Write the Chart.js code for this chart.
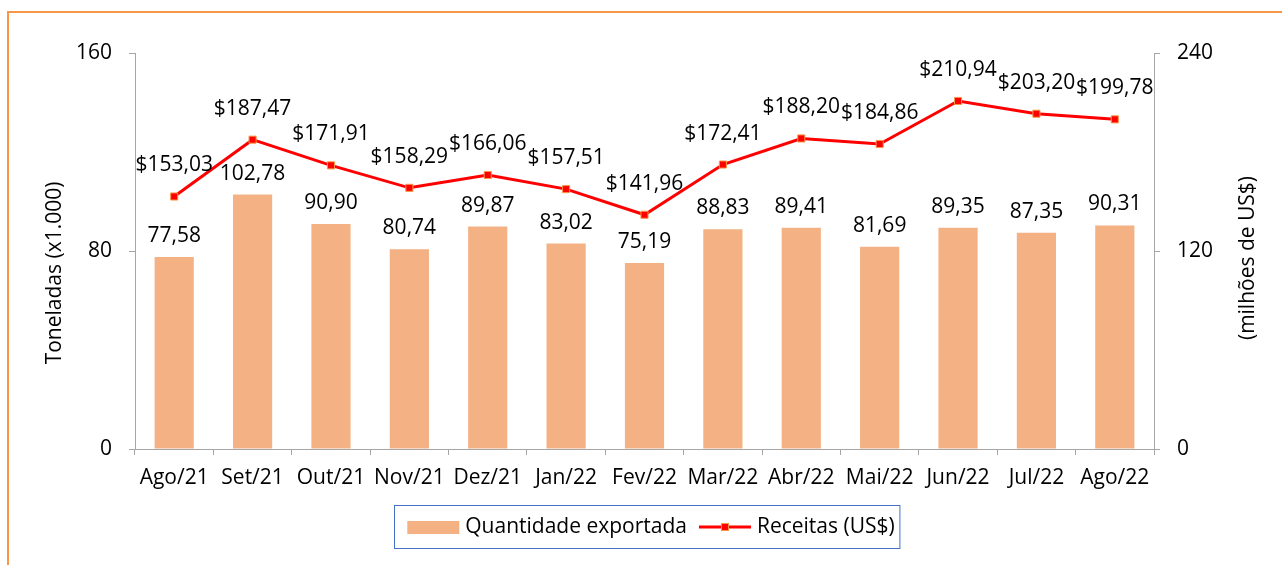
<!DOCTYPE html>
<html>
<head>
<meta charset="utf-8">
<script src="https://cdn.jsdelivr.net/npm/chart.js@4.4.1/dist/chart.umd.min.js"></script>
<style>
  body { margin: 0; background: #fff; }
  #wrap { position: relative; width: 1282px; height: 565px; overflow: hidden; }
  #frame { position: absolute; left: 7px; top: 11px; width: 1400px; height: 700px;
           border-left: 2px solid #F79646; border-top: 2px solid #F79646; pointer-events: none; }
</style>
</head>
<body>
<div id="wrap">
  <canvas id="myChart" width="1282" height="565"></canvas>
  <div id="frame"></div>
</div>
<script>
// data
const months = ['Ago/21', 'Set/21', 'Out/21', 'Nov/21', 'Dez/21', 'Jan/22', 'Fev/22', 'Mar/22', 'Abr/22', 'Mai/22', 'Jun/22', 'Jul/22', 'Ago/22'];
const quantidade = [77.58, 102.78, 90.90, 80.74, 89.87, 83.02, 75.19, 88.83, 89.41, 81.69, 89.35, 87.35, 90.31];
const receitas = [153.03, 187.47, 171.91, 158.29, 166.06, 157.51, 141.96, 172.41, 188.20, 184.86, 210.94, 203.20, 199.78];
const leftTicks = [0, 80, 160];
const rightTicks = [0, 120, 240];

const FONT = '"Open Sans", sans-serif';
const fontSize = 21;
const axisGray = '#a6a6a6';

const fmt = v => v.toFixed(2).replace('.', ',');

// labels, axis titles, legend
const extras = {
  id: 'extras',
  afterDatasetsDraw(chart) {
    const ctx = chart.ctx;
    ctx.save();
    ctx.font = fontSize + 'px ' + FONT;
    ctx.fillStyle = '#000';
    ctx.textAlign = 'center';
    ctx.textBaseline = 'middle';

    chart.getDatasetMeta(0).data.forEach((bar, i) => {
      ctx.fillText(fmt(quantidade[i]), bar.x, bar.y - 21);
    });
    chart.getDatasetMeta(1).data.forEach((pt, i) => {
      ctx.fillText('$' + fmt(receitas[i]), pt.x, pt.y - 31);
    });

    // axis titles, both read bottom to top
    const a = chart.chartArea;
    ctx.save();
    ctx.translate(a.left - 80, 273);
    ctx.rotate(-Math.PI / 2);
    ctx.fillText('Toneladas (x1.000)', 0, 0);
    ctx.restore();
    ctx.save();
    ctx.translate(a.right + 94, 258);
    ctx.rotate(-Math.PI / 2);
    ctx.fillText('(milhões de US$)', 0, 0);
    ctx.restore();

    // legend
    const ds = chart.data.datasets;
    const t1 = ctx.measureText(ds[0].label).width;
    const t2 = ctx.measureText(ds[1].label).width;
    const total = 52 + 6 + t1 + 12 + 52 + 6 + t2;
    let x = 651 - total / 2;
    const cy = 527;
    ctx.strokeStyle = '#4472C4';
    ctx.lineWidth = 1;
    ctx.strokeRect(Math.round(x - 13) + 0.5, 505.5, total + 18, 43);
    ctx.fillStyle = ds[0].backgroundColor;
    ctx.fillRect(x, cy - 6, 52, 13);
    x += 58;
    ctx.fillStyle = '#000';
    ctx.textAlign = 'left';
    ctx.fillText(ds[0].label, x, cy);
    x += t1 + 12;
    ctx.strokeStyle = ds[1].borderColor;
    ctx.lineWidth = 3;
    ctx.beginPath();
    ctx.moveTo(x, cy);
    ctx.lineTo(x + 52, cy);
    ctx.stroke();
    ctx.fillStyle = ds[1].pointBackgroundColor;
    ctx.strokeStyle = ds[1].pointBorderColor;
    ctx.lineWidth = 1;
    ctx.fillRect(x + 22, cy - 4, 8, 8);
    ctx.strokeRect(x + 22.5, cy - 3.5, 7, 7);
    x += 58;
    ctx.fillStyle = '#000';
    ctx.fillText(ds[1].label, x, cy);
    ctx.restore();
  }
};

const ctx1 = document.getElementById('myChart');

new Chart(ctx1, {
  type: 'bar',
  data: {
    labels: months,
    datasets: [{
      type: 'bar',
      label: 'Quantidade exportada',
      data: quantidade,
      backgroundColor: '#F4B183',
      yAxisID: 'y',
      categoryPercentage: 1,
      barPercentage: 0.5,
      order: 2
    }, {
      type: 'line',
      label: 'Receitas (US$)',
      data: receitas,
      borderColor: '#FF0000',
      borderWidth: 3,
      pointStyle: 'rect',
      pointRadius: 5,
      pointBackgroundColor: '#FF0000',
      pointBorderColor: '#F79646',
      pointBorderWidth: 1,
      tension: 0,
      yAxisID: 'y1',
      order: 1
    }]
  },
  options: {
    responsive: false,
    animation: false,
    layout: { padding: { top: 53, left: 0, right: 0, bottom: 0 } },
    plugins: {
      legend: { display: false },
      tooltip: { enabled: false }
    },
    scales: {
      x: {
        offset: true,
        grid: { drawOnChartArea: false, drawTicks: true, tickLength: 6, color: axisGray, offset: true },
        border: { color: axisGray },
        ticks: { font: { family: FONT, size: fontSize }, color: '#000', padding: 10, maxRotation: 0, autoSkip: false },
        afterFit: s => { s.height = 116; }
      },
      y: {
        position: 'left',
        min: 0,
        max: 160,
        afterBuildTicks: s => { s.ticks = leftTicks.map(v => ({ value: v })); },
        grid: { drawOnChartArea: false, tickLength: 6, color: axisGray },
        border: { color: axisGray },
        ticks: { font: { family: FONT, size: fontSize }, color: '#000', padding: 17 },
        afterFit: s => { s.width = 135; }
      },
      y1: {
        position: 'right',
        min: 0,
        max: 240,
        afterBuildTicks: s => { s.ticks = rightTicks.map(v => ({ value: v })); },
        grid: { drawOnChartArea: false, tickLength: 6, color: axisGray },
        border: { color: axisGray },
        ticks: { font: { family: FONT, size: fontSize }, color: '#000', padding: 17 },
        afterFit: s => { s.width = 128; }
      }
    }
  },
  plugins: [extras]
});
</script>
</body>
</html>
